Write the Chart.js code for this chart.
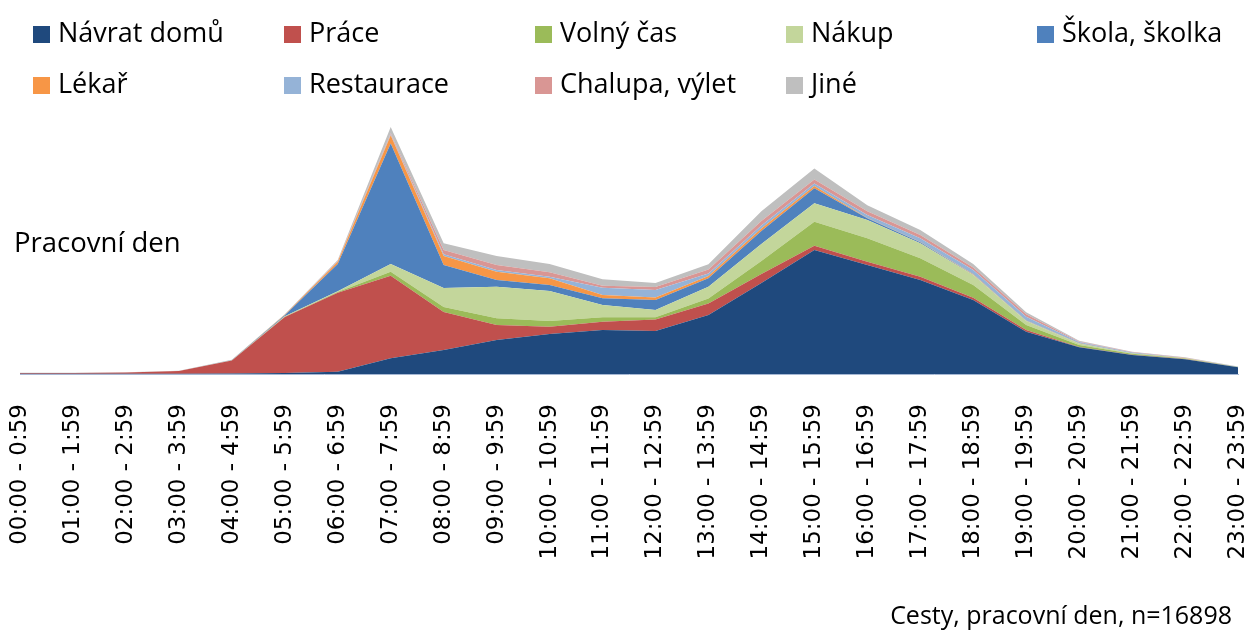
<!DOCTYPE html>
<html>
<head>
<meta charset="utf-8">
<script src="https://cdn.jsdelivr.net/npm/chart.js@4"></script>
<style>
  body { margin: 0; background: #fff; }
  #wrap { position: relative; width: 1252px; height: 630px; }
  #legend { position: absolute; left: 33px; top: 12px; width: 1219px; font-family: "Open Sans", sans-serif; font-size: 27px; color: #000; }
  .item { position: absolute; white-space: nowrap; line-height: 40px; }
  .box { display: inline-block; width: 17px; height: 17px; margin-right: 8px; vertical-align: -1px; }
  .note { position: absolute; font-family: "Open Sans", sans-serif; color: #000; white-space: nowrap; }
</style>
</head>
<body>
<div id="wrap">
  <canvas id="areaChart"></canvas>
  <div id="legend"></div>
  <div class="note" style="left:14px; top:223px; font-size:27.5px;">Pracovní den</div>
  <div class="note" style="right:20px; top:597px; font-size:25px;">Cesty, pracovní den, n=16898</div>
</div>
<script>
// Hours of the day
const hours = [
    '00:00 - 0:59', '01:00 - 1:59', '02:00 - 2:59', '03:00 - 3:59', '04:00 - 4:59', '05:00 - 5:59',
    '06:00 - 6:59', '07:00 - 7:59', '08:00 - 8:59', '09:00 - 9:59', '10:00 - 10:59', '11:00 - 11:59',
    '12:00 - 12:59', '13:00 - 13:59', '14:00 - 14:59', '15:00 - 15:59', '16:00 - 16:59', '17:00 - 17:59',
    '18:00 - 18:59', '19:00 - 19:59', '20:00 - 20:59', '21:00 - 21:59', '22:00 - 22:59', '23:00 - 23:59'
];

// Trips per hour by purpose
const navratDomu = [2, 2, 2, 3, 4, 8, 19, 131, 200, 283, 333, 367, 358, 491, 758, 1033, 908, 783, 616, 352, 222, 158, 122, 56];
const prace      = [6, 6, 10, 22, 108, 467, 658, 688, 317, 125, 61, 69, 97, 97, 75, 36, 28, 28, 19, 14, 4, 3, 2, 1];
const volnyCas   = [0, 0, 0, 0, 1, 3, 6, 33, 42, 56, 47, 37, 17, 42, 108, 200, 195, 153, 106, 42, 15, 8, 5, 1];
const nakup      = [0, 0, 0, 0, 2, 3, 6, 64, 158, 263, 250, 102, 61, 97, 142, 153, 152, 125, 83, 33, 14, 4, 2, 1];
const skola      = [0, 0, 0, 0, 1, 8, 227, 1005, 192, 56, 50, 56, 83, 70, 108, 125, 14, 8, 4, 3, 2, 2, 1, 0];
const lekar      = [0, 0, 0, 0, 0, 4, 19, 69, 75, 69, 56, 27, 22, 19, 21, 19, 4, 3, 3, 2, 1, 1, 1, 0];
const restaurace = [0, 0, 0, 0, 0, 0, 3, 8, 14, 14, 13, 61, 61, 22, 25, 22, 23, 31, 35, 32, 8, 4, 2, 1];
const chalupa    = [0, 0, 0, 0, 0, 0, 3, 8, 36, 42, 37, 17, 27, 33, 37, 33, 33, 28, 22, 20, 5, 3, 2, 1];
const jine       = [2, 2, 2, 3, 2, 4, 8, 52, 56, 75, 69, 53, 33, 44, 83, 92, 50, 42, 28, 17, 6, 3, 2, 1];

const seriesNames = ['Návrat domů', 'Práce', 'Volný čas', 'Nákup', 'Škola, školka', 'Lékař', 'Restaurace', 'Chalupa, výlet', 'Jiné'];
const seriesData = [navratDomu, prace, volnyCas, nakup, skola, lekar, restaurace, chalupa, jine];
const seriesColors = ['#1F497D', '#C0504D', '#9BBB59', '#C3D69B', '#4F81BD', '#F79646', '#95B3D7', '#D99694', '#BFBFBF'];

// Legend laid out like the Excel one: 5 columns, 2 rows
const legend = document.getElementById('legend');
seriesNames.forEach((name, i) => {
    const item = document.createElement('div');
    item.className = 'item';
    item.style.left = ((i % 5) * 251) + 'px';
    item.style.top = (Math.floor(i / 5) * 51) + 'px';
    item.innerHTML = '<span class="box" style="background:' + seriesColors[i] + '"></span>' + name;
    legend.appendChild(item);
});

const plotData = {
    labels: hours,
    datasets: seriesData.map((values, i) => ({
        label: seriesNames[i],
        data: values,
        backgroundColor: seriesColors[i],
        borderColor: seriesColors[i],
        borderWidth: 0,
        pointRadius: 0,
        tension: 0,
        fill: i === 0 ? 'origin' : '-1'
    }))
};

const plotConfig = {
    type: 'line',
    data: plotData,
    options: {
        responsive: true,
        maintainAspectRatio: false,
        animation: false,
        layout: { padding: { left: 20, right: 14, top: 110, bottom: 0 } },
        plugins: {
            legend: { display: false },
            tooltip: { enabled: false }
        },
        scales: {
            x: {
                grid: { display: false },
                border: { display: true, color: '#A6B8D4', width: 1 },
                afterFit: scale => {
                    scale.height = 256;
                    // rotated labels fit in the page margin, no extra side padding
                    scale.paddingLeft = 0;
                    scale.paddingRight = 0;
                },
                ticks: {
                    autoSkip: false,
                    minRotation: 90,
                    maxRotation: 90,
                    padding: 22,
                    color: '#000',
                    font: { family: 'DejaVu Sans', size: 23 }
                }
            },
            y: {
                display: false,
                stacked: true,
                min: 0,
                max: 2200
            }
        }
    }
};

window.chart = new Chart(document.getElementById('areaChart'), plotConfig);
</script>
</body>
</html>
